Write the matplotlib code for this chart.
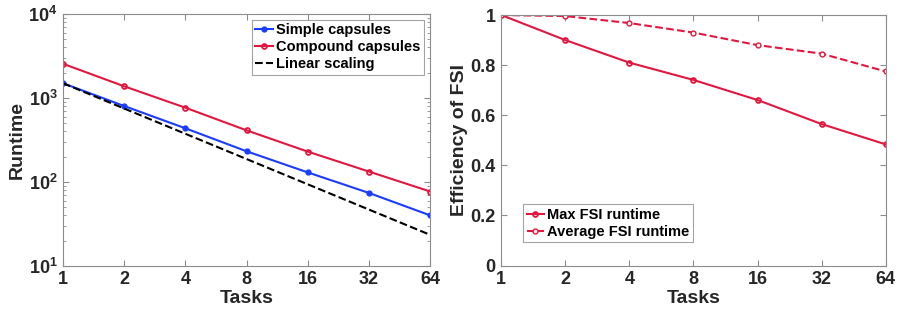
import matplotlib
matplotlib.use("Agg")
import matplotlib.pyplot as plt
from matplotlib.ticker import FixedLocator, NullFormatter, LogLocator

plt.rcParams['font.family'] = ['Liberation Sans', 'DejaVu Sans']
plt.rcParams['font.weight'] = 'bold'

tasks = [1, 2, 4, 8, 16, 32, 64]
task_labels = ['1', '2', '4', '8', '16', '32', '64']

# runtime (log scale)
simple_caps = [1500, 803, 436, 232, 130, 74, 40]
compound_caps = [2560, 1380, 767, 412, 230, 133, 77]
linear_scaling = [1500, 750, 375, 187.5, 93.75, 46.875, 23.44]

# efficiency
max_fsi = [1.0, 0.900, 0.810, 0.741, 0.661, 0.565, 0.484]
avg_fsi = [1.0, 0.996, 0.968, 0.930, 0.880, 0.846, 0.775]

BLUE = '#1a3cff'
RED = '#e2173f'
TXT = '#262626'
EDGE = '#8c8c8c'


def style_axes(ax):
    for s in ax.spines.values():
        s.set_color(EDGE)
        s.set_linewidth(0.8)
    ax.tick_params(which='both', direction='in', top=True, right=True,
                   color=EDGE, labelcolor=TXT, labelsize=13, pad=4)
    ax.tick_params(which='major', length=4)
    ax.tick_params(which='minor', length=2)
    ax.set_xscale('log', base=2)
    ax.set_xlim(1, 64)
    ax.xaxis.set_major_locator(FixedLocator(tasks))
    ax.set_xticklabels(task_labels)
    ax.xaxis.set_minor_locator(FixedLocator([]))
    ax.set_xlabel('Tasks', fontsize=14, color=TXT, fontweight='bold', labelpad=1)


fig = plt.figure(figsize=(9, 3.2), dpi=100)

ax1 = fig.add_axes([0.070, 0.169, 0.408, 0.787])
ax1.set_yscale('log')
ax1.plot(tasks, simple_caps, '-o', color=BLUE, lw=1.5, ms=3.5, label='Simple capsules')
ax1.plot(tasks, compound_caps, '-o', color=RED, lw=1.5, ms=3.5, mfc='none', mew=1.3,
         label='Compound capsules')
ax1.plot(tasks, linear_scaling, '--', color='black', lw=1.5, label='Linear scaling')
style_axes(ax1)
ax1.set_ylim(10, 1e4)
ax1.yaxis.set_major_locator(LogLocator(base=10, numticks=10))
ax1.yaxis.set_minor_locator(LogLocator(base=10, subs=range(2, 10), numticks=10))
ax1.yaxis.set_minor_formatter(NullFormatter())
ax1.set_ylabel('Runtime', fontsize=14, color=TXT, fontweight='bold', labelpad=2)
leg1 = ax1.legend(loc='upper right', bbox_to_anchor=(0.99, 0.99), fontsize=10.5,
                  frameon=True, fancybox=False, edgecolor=EDGE, handlelength=1.2,
                  handletextpad=0.2, borderpad=0.25, labelspacing=0.2, borderaxespad=0.2)
leg1.get_frame().set_linewidth(0.8)

ax2 = fig.add_axes([0.557, 0.170, 0.427, 0.783])
ax2.plot(tasks, max_fsi, '-o', color=RED, lw=1.5, ms=3.5, mfc='none', mew=1.3,
         label='Max FSI runtime')
ax2.plot(tasks, avg_fsi, '--o', color=RED, lw=1.5, ms=3.5, mfc='white', mew=1.0,
         label='Average FSI runtime')
style_axes(ax2)
ax2.set_ylim(0, 1)
ax2.set_yticks([0, 0.2, 0.4, 0.6, 0.8, 1])
ax2.set_yticklabels(['0', '0.2', '0.4', '0.6', '0.8', '1'])
ax2.set_ylabel('Efficiency of FSI', fontsize=14, color=TXT, fontweight='bold', labelpad=2)
leg2 = ax2.legend(loc='lower left', bbox_to_anchor=(0.045, 0.075), fontsize=10.5,
                  frameon=True, fancybox=False, edgecolor=EDGE, handlelength=1.2,
                  handletextpad=0.2, borderpad=0.25, labelspacing=0.2, borderaxespad=0.3)
leg2.get_frame().set_linewidth(0.8)

fig.savefig('out.png', dpi=100)
